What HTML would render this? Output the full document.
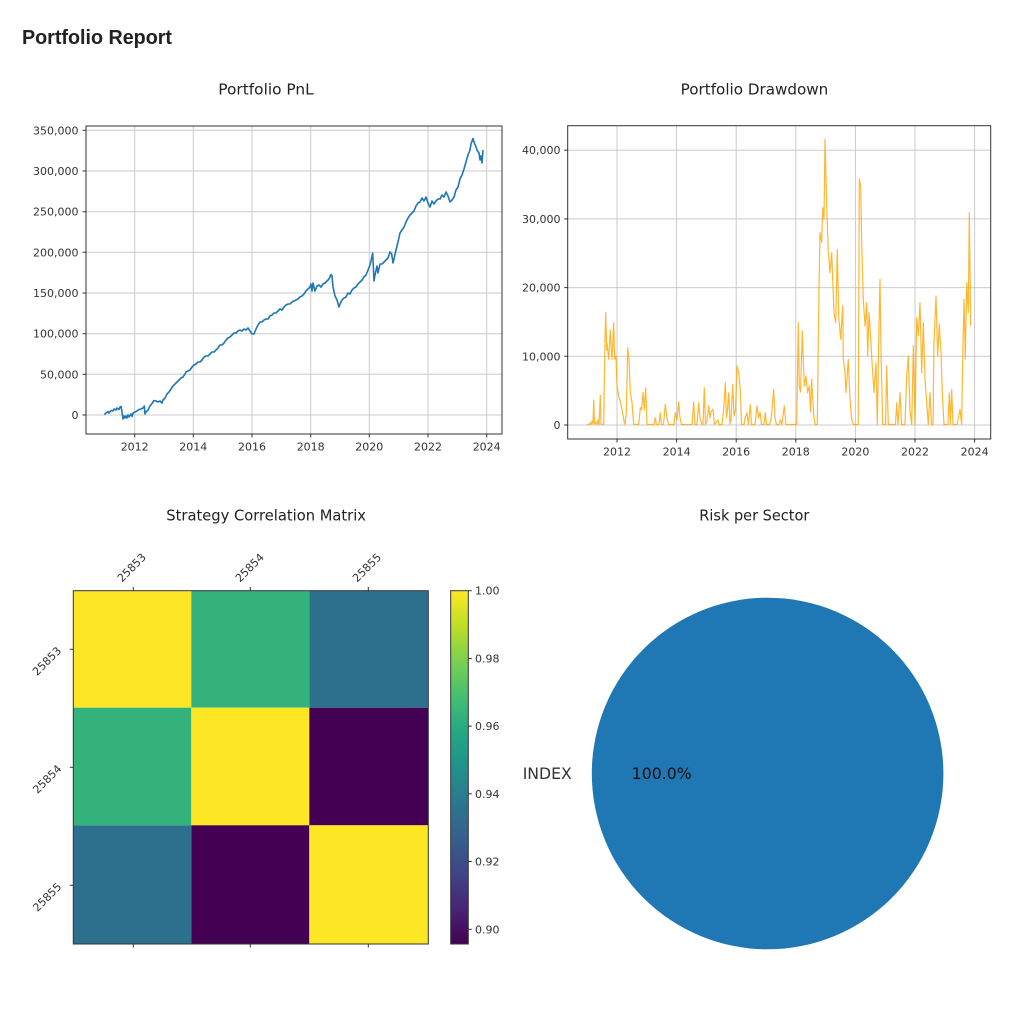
<!DOCTYPE html>
<html><head><meta charset="utf-8"><style>
html,body{margin:0;padding:0;background:#fff;}
svg{display:block;}
.t{font-family:"DejaVu Sans","Liberation Sans",sans-serif;fill:#333;font-size:11px;}
.ti{font-family:"DejaVu Sans","Liberation Sans",sans-serif;fill:#222;font-size:15px;}
</style></head><body>
<svg width="1024" height="1016" viewBox="0 0 1024 1016" xmlns="http://www.w3.org/2000/svg">
<defs>
<linearGradient id="vir" x1="0" y1="1" x2="0" y2="0">
<stop offset="0" stop-color="#440154"/><stop offset="0.1" stop-color="#482475"/><stop offset="0.2" stop-color="#414487"/><stop offset="0.3" stop-color="#355f8d"/><stop offset="0.4" stop-color="#2a788e"/><stop offset="0.5" stop-color="#21918c"/><stop offset="0.6" stop-color="#22a884"/><stop offset="0.7" stop-color="#44bf70"/><stop offset="0.8" stop-color="#7ad151"/><stop offset="0.9" stop-color="#bddf26"/><stop offset="1" stop-color="#fde725"/>
</linearGradient>
</defs>
<rect width="1024" height="1016" fill="#fff"/>
<text x="22" y="44" font-family="'Liberation Sans',Arial,sans-serif" font-weight="bold" font-size="20" fill="#212121" textLength="150" lengthAdjust="spacingAndGlyphs">Portfolio Report</text>

<!-- PnL chart -->
<text class="ti" x="218.3" y="94.3" textLength="95.4" lengthAdjust="spacingAndGlyphs">Portfolio PnL</text>
<g stroke="#cbcbcb" stroke-width="1">
<line x1="134.7" y1="126" x2="134.7" y2="434"/><line x1="193.3" y1="126" x2="193.3" y2="434"/><line x1="252" y1="126" x2="252" y2="434"/><line x1="310.7" y1="126" x2="310.7" y2="434"/><line x1="369.3" y1="126" x2="369.3" y2="434"/><line x1="428" y1="126" x2="428" y2="434"/><line x1="486.7" y1="126" x2="486.7" y2="434"/>
<line x1="86" y1="415" x2="502" y2="415"/><line x1="86" y1="374.3" x2="502" y2="374.3"/><line x1="86" y1="333.7" x2="502" y2="333.7"/><line x1="86" y1="293" x2="502" y2="293"/><line x1="86" y1="252.3" x2="502" y2="252.3"/><line x1="86" y1="211.7" x2="502" y2="211.7"/><line x1="86" y1="171" x2="502" y2="171"/><line x1="86" y1="130.3" x2="502" y2="130.3"/>
</g>
<polyline fill="none" stroke="#1f77b4" stroke-width="1.6" stroke-linejoin="round" points="104.3,414.5 106,413 108,411.5 109,413 111,410.5 113,411 114,409 116,410 117,408 119,409.5 120,407 121,406.5 122,412 123,419 124,416 125,418 126,416 127,418 128,415 129,417 131,414 132,416.5 133,413 135,412 137,411 139,409.5 141,409 143,408 144.3,406 145,414 146,412 148,410 150,406 152,403.5 154,400.5 156,401 158,402 160,401 162,403 163,400 165,398 167,394 169,392 171,389 173,386 175,384 177,382 179,380 181,378 183,377 185,374 186,372 188,371 190,370 192,367 194,365 196,364 198,362 200,362 202,360 204,357 206,356 208,356 210,354 212,352 214,352 216,350 218,348 220,345 222,345 224,343 226,340 228,338 230,337 232,335 234,333 236,333 238,331 240,330 242,331 244,329 246,330 248,328 250,331 252,334 254,334 256,329 258,325 260,322 262,322 264,320 266,319 268,319 270,316 272,315 274,313 276,313 278,311 280,309 282,310 284,307 286,305 288,304 290,304 292,302 294,301 296,300 298,299 300,297 302,296 304,294 306,291 308,289 310,287 311,284 312,291 313,283 315,291 317,286 319,285 321,287 323,284 325,283 327,281 329,279 331,274.5 332,276 333,287 335,296 337,300 339,307 340,304 342,300 344,298 346,297 348,293 350,294 352,290 354,288 356,287 358,284 360,282 362,280 364,277 366,275 368,270 370,265 371,261 372.7,253 374,281 375,275 377,266 378,273 380,264 382,264 384,262 386,260 388,258 390,252 391.7,254 393,263 394,259 396,250 398,242 400,233 402,230 404,227 406,222 408,218 410,215 412,213 414,211 416,206 418,203 420,202 422,198 424,201 426,197 428,203 430,207 432,201 434,204 436,201 438,199 440,199 442,195 444,197 446,192 448,196 450,202 452,200 454,197 456,190 458,187 460,179 462,175 464,169 466,162 468,155 470,150 471,144 473,138.5 474,142 476,147 477,150 479,153 480,160 481,156 482,163 483,150"/>
<rect x="86" y="126" width="416" height="308" fill="none" stroke="#333" stroke-width="1"/>
<g stroke="#333" stroke-width="1">
<line x1="82.5" y1="415" x2="86" y2="415"/><line x1="82.5" y1="374.3" x2="86" y2="374.3"/><line x1="82.5" y1="333.7" x2="86" y2="333.7"/><line x1="82.5" y1="293" x2="86" y2="293"/><line x1="82.5" y1="252.3" x2="86" y2="252.3"/><line x1="82.5" y1="211.7" x2="86" y2="211.7"/><line x1="82.5" y1="171" x2="86" y2="171"/><line x1="82.5" y1="130.3" x2="86" y2="130.3"/>
<line x1="134.7" y1="434" x2="134.7" y2="437.5"/><line x1="193.3" y1="434" x2="193.3" y2="437.5"/><line x1="252" y1="434" x2="252" y2="437.5"/><line x1="310.7" y1="434" x2="310.7" y2="437.5"/><line x1="369.3" y1="434" x2="369.3" y2="437.5"/><line x1="428" y1="434" x2="428" y2="437.5"/><line x1="486.7" y1="434" x2="486.7" y2="437.5"/>
</g>
<g class="t" text-anchor="end">
<text x="78.5" y="419">0</text><text x="78.5" y="378.3">50,000</text><text x="78.5" y="337.7">100,000</text><text x="78.5" y="297">150,000</text><text x="78.5" y="256.3">200,000</text><text x="78.5" y="215.7">250,000</text><text x="78.5" y="175">300,000</text><text x="78.5" y="134.3">350,000</text>
</g>
<g class="t" text-anchor="middle">
<text x="134.7" y="450.5">2012</text><text x="193.3" y="450.5">2014</text><text x="252" y="450.5">2016</text><text x="310.7" y="450.5">2018</text><text x="369.3" y="450.5">2020</text><text x="428" y="450.5">2022</text><text x="486.7" y="450.5">2024</text>
</g>

<!-- Drawdown chart -->
<text class="ti" x="680.7" y="94.3" textLength="147.6" lengthAdjust="spacingAndGlyphs">Portfolio Drawdown</text>
<g stroke="#cbcbcb" stroke-width="1">
<line x1="617" y1="125.7" x2="617" y2="439"/><line x1="676.6" y1="125.7" x2="676.6" y2="439"/><line x1="736.2" y1="125.7" x2="736.2" y2="439"/><line x1="795.8" y1="125.7" x2="795.8" y2="439"/><line x1="855.4" y1="125.7" x2="855.4" y2="439"/><line x1="915" y1="125.7" x2="915" y2="439"/><line x1="974.6" y1="125.7" x2="974.6" y2="439"/>
<line x1="567.7" y1="425" x2="990.7" y2="425"/><line x1="567.7" y1="356.3" x2="990.7" y2="356.3"/><line x1="567.7" y1="287.6" x2="990.7" y2="287.6"/><line x1="567.7" y1="218.9" x2="990.7" y2="218.9"/><line x1="567.7" y1="150.2" x2="990.7" y2="150.2"/>
</g>
<polyline fill="none" stroke="#ffa500" stroke-opacity="0.8" stroke-width="1.2" stroke-linejoin="round" points="587,424.5 589,424.5 590,423 591,424.5 592,421 593,424 593.7,400 594.5,424 596,422 597,424.5 598,420 599,424.5 600.3,395.3 601,424 603,424.5 603.7,424.5 605,340 605.7,312.7 606.7,350 607,342.7 608.7,359.3 610.3,330 612,359.3 613.7,322.7 614.7,359.3 616,356 617,386 618.7,396 620,400 622,409.3 623,415 624.3,422.7 625,424.5 626.3,412.7 627.7,347.7 629,359.3 630.3,392.7 632,402.7 633.7,424.3 638.7,424.5 640.3,407.7 641.5,410 643,392.7 644.3,410 645.7,387.7 647,424.5 654,424.5 655.3,417.7 656.5,424.5 659,424.5 660.3,412.7 661.5,424.5 663.5,424.5 665.3,404.3 667,418 668.5,424.5 674,424.5 675.3,412.7 677,420 678.7,402 680,418 681.5,424.5 692,424.5 693.7,402 695,424.5 697,424.5 698.7,402.7 700,418 702,424.5 703,424.5 704.3,387.7 705.5,424.5 707,420 708.7,406 710,418 711,412 713,409.3 714.5,424.5 718,420 719,424.5 722,424.5 723.7,409.3 725.3,382.7 726.5,418 727.5,410 728.7,392.7 730,424 731,420 732.7,384.3 734,416 735.5,410 737,366 738.7,372.7 740.3,389.3 741.5,424.5 744,424.5 745,418 747,412.7 748.5,424.5 750.3,404.3 751.5,424.5 755,424.5 757,406 758.5,418 760,412 761.5,424.5 764,424.5 765.3,412.7 766.5,424.5 769.5,424.5 771,420 773.7,389.3 775,418 776.5,424.5 779,424.5 780.3,420 782,424.5 784.3,406 786,424.5 796.7,424.5 798.3,322.7 799.3,386 800.5,392 802.3,331 803.5,366 804.3,386 806,376 807.5,392.7 809.3,386 810.5,412 811.7,379.3 813.5,412 815,424.5 817.3,424.5 819,286 820,232.7 821.7,242.7 822.7,207.7 824,219.3 825,139.3 826.7,206 828.3,252.7 830,272.7 831.7,252.7 832.7,279.3 834,312.7 835.7,322.7 837.3,249.3 838.7,316 840.7,339.3 842.7,306 843.3,359.3 845,372.7 846,392.7 848.3,359.3 850,399.3 851.7,419.3 853.3,424.5 858.3,424.5 859.3,179.3 860.7,186 861.7,242.7 863.3,299.3 865,326 866.7,302.7 867.7,356 869,312.7 870.7,339.3 872.3,366 874,392.7 876,362.7 877.3,424.5 879,326 880,279.3 881,352.7 882.7,424.5 885.5,424.5 886.7,366 888.3,424.5 895.5,424.5 896.7,402.7 898,424.5 900,392.7 901.5,424.5 905,424.5 906.7,376 908.3,356 910,410 911.7,424.5 913.3,346 915,424.5 916.7,317.7 918.3,336 920,302.7 921.7,372.7 923.3,322.7 925,379.3 926.7,402.7 928.3,424.5 930,392.7 931.5,424.5 933,424.5 934,342.7 936,296 937.7,356 939.3,324.3 941,352.7 942.3,392.7 944,424.5 948,424.5 949.3,392.7 950.5,424.5 951.7,389.3 953,424.5 957,424.5 958,420 960,409.3 961.7,424.5 962.7,359.3 964,299.3 965.3,359.3 966.7,282.7 968.3,312.7 969.3,212.7 970.7,326"/>
<rect x="567.7" y="125.7" width="423" height="313.3" fill="none" stroke="#333" stroke-width="1"/>
<g stroke="#333" stroke-width="1">
<line x1="564.2" y1="425" x2="567.7" y2="425"/><line x1="564.2" y1="356.3" x2="567.7" y2="356.3"/><line x1="564.2" y1="287.6" x2="567.7" y2="287.6"/><line x1="564.2" y1="218.9" x2="567.7" y2="218.9"/><line x1="564.2" y1="150.2" x2="567.7" y2="150.2"/>
<line x1="617" y1="439" x2="617" y2="442.5"/><line x1="676.6" y1="439" x2="676.6" y2="442.5"/><line x1="736.2" y1="439" x2="736.2" y2="442.5"/><line x1="795.8" y1="439" x2="795.8" y2="442.5"/><line x1="855.4" y1="439" x2="855.4" y2="442.5"/><line x1="915" y1="439" x2="915" y2="442.5"/><line x1="974.6" y1="439" x2="974.6" y2="442.5"/>
</g>
<g class="t" text-anchor="end">
<text x="560.5" y="429">0</text><text x="560.5" y="360.3">10,000</text><text x="560.5" y="291.6">20,000</text><text x="560.5" y="222.9">30,000</text><text x="560.5" y="154.2">40,000</text>
</g>
<g class="t" text-anchor="middle">
<text x="617" y="455.5">2012</text><text x="676.6" y="455.5">2014</text><text x="736.2" y="455.5">2016</text><text x="795.8" y="455.5">2018</text><text x="855.4" y="455.5">2020</text><text x="915" y="455.5">2022</text><text x="974.6" y="455.5">2024</text>
</g>

<!-- Correlation matrix -->
<text class="ti" x="166.3" y="520.7" textLength="199.7" lengthAdjust="spacingAndGlyphs">Strategy Correlation Matrix</text>
<rect x="73.3" y="590.7" width="118" height="117" fill="#fde725"/>
<rect x="191.3" y="590.7" width="118" height="117" fill="#33b37b"/>
<rect x="309.3" y="590.7" width="119" height="117" fill="#2d708e"/>
<rect x="73.3" y="707.7" width="118" height="117.6" fill="#33b37b"/>
<rect x="191.3" y="707.7" width="118" height="117.6" fill="#fde725"/>
<rect x="309.3" y="707.7" width="119" height="117.6" fill="#440154"/>
<rect x="73.3" y="825.3" width="118" height="118.7" fill="#2d708e"/>
<rect x="191.3" y="825.3" width="118" height="118.7" fill="#440154"/>
<rect x="309.3" y="825.3" width="119" height="118.7" fill="#fde725"/>
<rect x="73.3" y="590.7" width="355" height="353.3" fill="none" stroke="#333" stroke-width="1"/>
<g stroke="#333" stroke-width="1">
<line x1="133.3" y1="587" x2="133.3" y2="590.7"/><line x1="250.3" y1="587" x2="250.3" y2="590.7"/><line x1="368.3" y1="587" x2="368.3" y2="590.7"/>
<line x1="133.3" y1="944" x2="133.3" y2="947.5"/><line x1="250.3" y1="944" x2="250.3" y2="947.5"/><line x1="368.3" y1="944" x2="368.3" y2="947.5"/>
<line x1="69.8" y1="649.3" x2="73.3" y2="649.3"/><line x1="69.8" y1="767.3" x2="73.3" y2="767.3"/><line x1="69.8" y1="885.3" x2="73.3" y2="885.3"/>
</g>
<g class="t" text-anchor="middle">
<g transform="translate(131.5,567.5) rotate(-45)"><text x="0" y="4">25853</text></g>
<g transform="translate(249.5,567.5) rotate(-45)"><text x="0" y="4">25854</text></g>
<g transform="translate(366.7,567.5) rotate(-45)"><text x="0" y="4">25855</text></g>
<g transform="translate(46.7,661) rotate(-45)"><text x="0" y="4">25853</text></g>
<g transform="translate(47,779) rotate(-45)"><text x="0" y="4">25854</text></g>
<g transform="translate(47,897) rotate(-45)"><text x="0" y="4">25855</text></g>
</g>
<!-- colorbar -->
<rect x="450.7" y="590.7" width="17.6" height="353.3" fill="url(#vir)" stroke="#333" stroke-width="1"/>
<g stroke="#333" stroke-width="1">
<line x1="468.3" y1="590.7" x2="471.8" y2="590.7"/><line x1="468.3" y1="658.4" x2="471.8" y2="658.4"/><line x1="468.3" y1="726.1" x2="471.8" y2="726.1"/><line x1="468.3" y1="793.8" x2="471.8" y2="793.8"/><line x1="468.3" y1="861.5" x2="471.8" y2="861.5"/><line x1="468.3" y1="929.3" x2="471.8" y2="929.3"/>
</g>
<g class="t">
<text x="475" y="594.7">1.00</text><text x="475" y="662.4">0.98</text><text x="475" y="730.1">0.96</text><text x="475" y="797.8">0.94</text><text x="475" y="865.5">0.92</text><text x="475" y="933.3">0.90</text>
</g>

<!-- Pie -->
<text class="ti" x="699.3" y="520.7" textLength="110" lengthAdjust="spacingAndGlyphs">Risk per Sector</text>
<circle cx="767.6" cy="773.5" r="175.8" fill="#1f77b4"/>
<text x="522.7" y="779" font-family="'DejaVu Sans','Liberation Sans',sans-serif" font-size="15.6" fill="#333" textLength="49" lengthAdjust="spacingAndGlyphs">INDEX</text>
<text x="631.7" y="779" font-family="'DejaVu Sans','Liberation Sans',sans-serif" font-size="15.6" fill="#111" textLength="60" lengthAdjust="spacingAndGlyphs">100.0%</text>
</svg>
</body></html>
